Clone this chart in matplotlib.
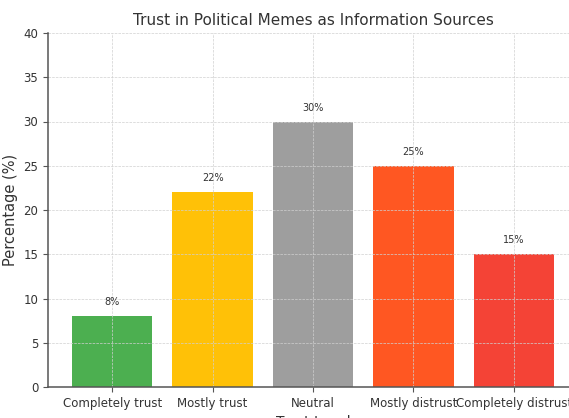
import matplotlib.pyplot as plt

levels = ["Completely trust", "Mostly trust", "Neutral", "Mostly distrust", "Completely distrust"]
percent = [8, 22, 30, 25, 15]
colors = ["#4CAF50", "#FFC107", "#9E9E9E", "#FF5722", "#F44336"]

txt = "#333333"

fig = plt.figure(figsize=(5.69, 4.18), dpi=100)
ax = fig.add_axes([48 / 569, 31 / 418, 530 / 569, 354 / 418])

bars = ax.bar(levels, percent, color=colors, width=0.8)

# value labels just above each bar
for b, p in zip(bars, percent):
    ax.text(b.get_x() + b.get_width() / 2, p + 1, f"{p}%",
            ha="center", va="bottom", fontsize=7, color=txt)

ax.set_ylim(0, 40)
ax.set_title("Trust in Political Memes as Information Sources", fontsize=11, color=txt)
ax.set_xlabel("Trust Level", fontsize=10, color=txt)
ax.set_ylabel("Percentage (%)", fontsize=10.5, color=txt)
ax.tick_params(axis="both", labelsize=8.5, colors=txt)
ax.tick_params(axis="both", color="#555555")

ax.grid(True, linestyle="--", linewidth=0.5, color="#d0d0d0")
ax.spines["top"].set_visible(False)
ax.spines["right"].set_visible(False)
for s in ("left", "bottom"):
    ax.spines[s].set_color("#555555")
    ax.spines[s].set_linewidth(1.1)

fig.savefig("out.png", dpi=100)
